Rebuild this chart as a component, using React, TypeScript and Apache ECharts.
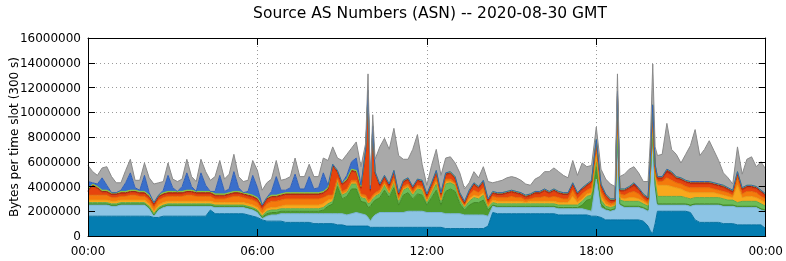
import React, { useEffect, useRef } from "react";
import * as echarts from "echarts";

// Time of each sample, minutes after 00:00 GMT (10-min steps, 5-min around narrow spikes)
const MINUTES = [
  0, 10, 20, 30, 40, 50,
  60, 70, 80, 90, 100, 110,
  120, 130, 140, 150, 160, 170,
  180, 190, 200, 210, 220, 230,
  240, 250, 260, 270, 280, 290,
  300, 310, 320, 330, 340, 350,
  360, 370, 380, 390, 400, 410,
  420, 430, 440, 450, 460, 470,
  480, 490, 500, 510, 520, 530,
  540, 550, 560, 570, 580, 590, 595,
  600, 605, 610, 620, 630, 640, 650,
  660, 670, 680, 690, 700, 710,
  720, 730, 740, 750, 760, 770,
  780, 790, 800, 810, 820, 830,
  840, 850, 860, 870, 880, 890,
  900, 910, 920, 930, 940, 950,
  960, 970, 980, 990, 1000, 1010,
  1020, 1030, 1040, 1050, 1060, 1070,
  1080, 1090, 1100, 1110, 1120, 1125, 1130,
  1140, 1150, 1160, 1170, 1180, 1190, 1195,
  1200, 1205, 1210, 1220, 1230, 1240, 1250,
  1260, 1270, 1280, 1290, 1300, 1310,
  1320, 1330, 1340, 1350, 1360, 1370,
  1380, 1390, 1400, 1410, 1420, 1430,
  1440,
];

// Layer thicknesses in units of 100 000 bytes, bottom layer first
const AS_DARK_BLUE = [
  16, 16, 16, 16, 16, 16,
  16, 16, 16, 16, 16, 16,
  16, 16, 15, 15, 16, 16,
  16, 16, 16, 16, 16, 16,
  16, 16, 21, 18, 18, 18,
  18, 18, 18, 18, 17, 16,
  15, 13, 12, 12, 12, 12,
  11, 11, 11, 11, 11, 11,
  10, 10, 10, 10, 10, 9,
  9, 8, 8, 8, 8, 8, 8,
  7, 7, 7, 7, 7, 7, 7,
  7, 7, 7, 7, 7, 7,
  7, 7, 7, 7, 6, 6,
  6, 6, 6, 6, 6, 6,
  6, 8, 19, 18, 18, 18,
  18, 18, 18, 18, 18, 18,
  18, 18, 18, 18, 17, 17,
  17, 17, 17, 17, 17, 16,
  16, 15, 13, 13, 13, 13, 13,
  13, 13, 13, 13, 12, 8, 4,
  2, 10, 20, 20, 20, 20, 20,
  20, 20, 19, 13, 11, 11,
  11, 11, 11, 10, 10, 10,
  9, 9, 9, 9, 9, 9,
  6,
];

const AS_LIGHT_BLUE = [
  9, 9, 9, 9, 9, 8,
  8, 9, 9, 9, 9, 9,
  9, 6, 1, 6, 7, 8,
  8, 8, 8, 8, 8, 8,
  8, 8, 3, 5, 5, 5,
  5, 5, 5, 5, 5, 5,
  4, 1, 4, 5, 5, 6,
  7, 7, 7, 7, 7, 7,
  8, 8, 8, 8, 8, 9,
  9, 9, 10, 11, 10, 9, 7,
  5, 8, 10, 12, 12, 12, 12,
  12, 12, 13, 13, 13, 13,
  12, 12, 12, 12, 12, 12,
  12, 12, 11, 11, 11, 11,
  11, 8, 5, 5, 5, 5,
  5, 5, 5, 5, 5, 5,
  5, 5, 5, 5, 5, 5,
  5, 5, 5, 5, 4, 4,
  30, 8, 8, 7, 8, 70, 12,
  10, 10, 10, 10, 10, 12, 45,
  81, 30, 5, 5, 5, 5, 5,
  5, 5, 5, 12, 14, 14,
  14, 14, 14, 14, 14, 14,
  14, 14, 14, 14, 14, 12,
  14,
];

const AS_DARK_GREEN = [
  1, 1, 1, 1, 1, 1,
  1, 1, 1, 1, 1, 1,
  1, 1, 1, 1, 1, 1,
  1, 1, 1, 1, 1, 1,
  1, 1, 1, 1, 1, 1,
  1, 1, 1, 1, 1, 1,
  1, 1, 2, 2, 2, 2,
  2, 2, 2, 2, 2, 2,
  2, 2, 3, 6, 8, 22,
  12, 15, 20, 19, 10, 10, 8,
  12, 12, 12, 12, 18, 12, 20,
  6, 14, 15, 10, 14, 13,
  6, 12, 18, 6, 18, 20,
  18, 8, 4, 8, 10, 10,
  12, 5, 1, 1, 1, 1,
  1, 1, 1, 1, 1, 1,
  1, 1, 1, 1, 1, 1,
  1, 1, 1, 3, 8, 10,
  10, 3, 1, 1, 1, 2, 1,
  1, 1, 1, 1, 1, 1, 1,
  1, 1, 1, 1, 1, 1, 1,
  1, 1, 1, 1, 1, 1,
  1, 1, 1, 1, 1, 1,
  1, 1, 1, 1, 1, 1,
  1,
];

const AS_LIGHT_GREEN = [
  1, 1, 1, 1, 1, 1,
  1, 1, 1, 1, 1, 1,
  1, 1, 1, 1, 1, 1,
  1, 1, 1, 1, 1, 1,
  1, 1, 1, 1, 1, 1,
  1, 1, 1, 1, 1, 1,
  1, 1, 2, 2, 2, 2,
  2, 2, 2, 2, 2, 2,
  2, 2, 2, 2, 2, 4,
  3, 3, 4, 4, 3, 3, 3,
  3, 3, 3, 3, 4, 3, 4,
  3, 4, 4, 3, 4, 4,
  2, 4, 5, 3, 6, 5,
  5, 3, 2, 3, 4, 3,
  4, 2, 2, 2, 2, 2,
  2, 2, 2, 2, 2, 2,
  2, 2, 2, 2, 2, 2,
  2, 2, 2, 3, 3, 3,
  4, 3, 2, 2, 2, 2, 3,
  4, 4, 4, 4, 3, 3, 2,
  2, 3, 6, 6, 6, 6, 6,
  6, 5, 5, 5, 5, 5,
  5, 5, 5, 5, 4, 4,
  3, 4, 4, 4, 4, 4,
  3,
];

const AS_AMBER = [
  2, 2, 2, 2, 2, 2,
  2, 2, 2, 2, 2, 2,
  2, 2, 2, 2, 2, 2,
  2, 2, 2, 2, 2, 2,
  2, 2, 2, 2, 2, 2,
  2, 2, 2, 2, 2, 2,
  2, 2, 2, 2, 2, 2,
  3, 3, 3, 3, 3, 3,
  3, 3, 3, 3, 2, 1,
  1, 1, 1, 1, 1, 1, 1,
  1, 1, 1, 1, 1, 1, 1,
  1, 1, 1, 1, 1, 1,
  1, 1, 2, 1, 2, 1,
  1, 1, 1, 2, 2, 2,
  2, 1, 2, 2, 2, 2,
  2, 2, 2, 1, 2, 2,
  2, 2, 2, 2, 2, 2,
  2, 7, 2, 2, 2, 2,
  6, 3, 2, 1, 1, 10, 2,
  2, 3, 3, 2, 2, 1, 3,
  6, 4, 9, 9, 9, 8, 7,
  6, 5, 5, 4, 4, 4,
  4, 4, 3, 3, 3, 2,
  14, 3, 4, 4, 3, 3,
  3,
];

const AS_ORANGE = [
  4, 4, 4, 4, 4, 3,
  3, 3, 3, 4, 4, 3,
  3, 3, 3, 4, 4, 4,
  4, 4, 4, 5, 5, 4,
  4, 4, 4, 3, 3, 3,
  4, 5, 5, 4, 4, 4,
  4, 3, 4, 5, 5, 5,
  5, 5, 5, 5, 5, 5,
  5, 5, 5, 4, 3, 2,
  2, 2, 2, 2, 2, 2, 2,
  2, 2, 2, 2, 2, 2, 3,
  2, 2, 2, 2, 2, 2,
  2, 2, 3, 2, 2, 2,
  1, 1, 1, 3, 4, 3,
  4, 2, 3, 3, 3, 3,
  4, 3, 3, 2, 2, 3,
  3, 4, 3, 4, 4, 3,
  3, 5, 3, 4, 3, 4,
  6, 4, 3, 2, 2, 10, 3,
  3, 4, 5, 4, 2, 2, 4,
  7, 4, 3, 3, 6, 5, 4,
  4, 4, 4, 4, 4, 4,
  4, 3, 3, 3, 3, 2,
  6, 3, 4, 4, 4, 3,
  3,
];

const AS_RED = [
  3, 7, 5, 2, 2, 2,
  2, 2, 2, 2, 2, 2,
  2, 2, 2, 2, 2, 2,
  2, 2, 2, 2, 2, 2,
  2, 2, 2, 2, 2, 2,
  2, 2, 2, 2, 2, 2,
  2, 2, 3, 3, 3, 3,
  3, 3, 3, 3, 3, 3,
  3, 3, 3, 4, 23, 4,
  5, 6, 7, 6, 4, 35, 86,
  6, 54, 15, 3, 3, 3, 4,
  2, 3, 3, 2, 3, 3,
  2, 3, 4, 2, 3, 4,
  3, 2, 1, 2, 4, 3,
  4, 2, 2, 2, 2, 3,
  3, 3, 2, 2, 2, 3,
  3, 4, 3, 4, 3, 3,
  3, 4, 3, 3, 3, 4,
  3, 4, 3, 2, 1, 6, 2,
  3, 3, 4, 3, 2, 2, 3,
  4, 3, 2, 2, 4, 4, 3,
  3, 3, 3, 3, 3, 3,
  3, 3, 3, 3, 2, 2,
  3, 3, 3, 3, 3, 3,
  2,
];

const AS_DARK_RED = [
  1, 1, 1, 1, 1, 1,
  1, 1, 1, 1, 1, 1,
  1, 1, 1, 1, 1, 1,
  1, 1, 1, 1, 1, 1,
  1, 1, 1, 1, 1, 1,
  1, 1, 1, 1, 1, 1,
  1, 1, 1, 1, 1, 1,
  1, 1, 1, 1, 1, 1,
  1, 1, 1, 1, 1, 1,
  1, 1, 1, 1, 1, 1, 1,
  1, 1, 1, 1, 1, 1, 1,
  1, 1, 1, 1, 1, 1,
  1, 1, 1, 1, 1, 1,
  1, 1, 1, 1, 1, 1,
  1, 1, 1, 1, 1, 1,
  1, 1, 1, 1, 1, 1,
  1, 1, 1, 1, 1, 1,
  1, 1, 1, 1, 1, 1,
  2, 1, 1, 1, 1, 2, 1,
  1, 1, 2, 1, 1, 1, 1,
  2, 2, 1, 1, 2, 2, 1,
  1, 1, 1, 1, 1, 1,
  1, 1, 1, 1, 1, 1,
  1, 1, 1, 1, 1, 1,
  1,
];

const AS_LIME = [
  1, 1, 1, 1, 1, 1,
  1, 1, 1, 1, 1, 1,
  1, 1, 1, 1, 1, 1,
  1, 1, 1, 1, 1, 1,
  1, 1, 1, 1, 1, 1,
  1, 1, 1, 1, 1, 1,
  1, 1, 1, 1, 1, 1,
  1, 1, 1, 1, 1, 1,
  1, 1, 1, 1, 1, 1,
  1, 1, 1, 1, 1, 1, 1,
  1, 1, 1, 1, 1, 1, 1,
  1, 1, 1, 1, 1, 1,
  1, 1, 1, 1, 1, 1,
  1, 1, 1, 1, 1, 1,
  1, 1, 1, 1, 1, 1,
  1, 1, 1, 1, 1, 1,
  1, 1, 1, 1, 1, 1,
  1, 1, 1, 1, 1, 1,
  1, 1, 1, 1, 1, 1, 1,
  1, 1, 1, 1, 1, 1, 1,
  1, 1, 1, 1, 1, 1, 1,
  1, 1, 1, 1, 1, 1,
  1, 1, 1, 1, 1, 1,
  1, 1, 1, 1, 1, 1,
  1,
];

const AS_BLUE = [
  6, 1, 2, 10, 4, 0,
  0, 1, 7, 14, 2, 1,
  13, 2, 0, 0, 2, 13,
  3, 0, 4, 14, 3, 0,
  15, 5, 0, 2, 15, 2,
  3, 16, 3, 0, 2, 16,
  8, 0, 0, 3, 15, 3,
  2, 4, 15, 3, 3, 13,
  3, 4, 15, 2, 0, 0,
  0, 3, 6, 10, 1, 0, 1,
  0, 0, 0, 0, 0, 0, 0,
  0, 0, 0, 0, 0, 0,
  0, 0, 0, 0, 0, 0,
  0, 0, 0, 0, 0, 0,
  0, 0, 0, 0, 0, 0,
  0, 0, 0, 0, 0, 0,
  0, 0, 0, 0, 0, 0,
  0, 0, 0, 0, 0, 0,
  0, 0, 0, 0, 0, 1, 0,
  0, 0, 0, 0, 0, 0, 0,
  0, 0, 0, 0, 0, 0, 0,
  0, 0, 0, 0, 0, 0,
  0, 0, 0, 0, 0, 0,
  0, 0, 0, 0, 0, 0,
  0,
];

const AS_GRAY = [
  13, 9, 7, 8, 15, 13,
  8, 6, 10, 11, 6, 8,
  10, 12, 15, 10, 7, 10,
  7, 8, 6, 11, 8, 8,
  11, 11, 9, 12, 12, 10,
  12, 14, 9, 9, 9, 12,
  14, 12, 12, 10, 13, 8,
  9, 9, 13, 10, 10, 10,
  10, 9, 12, 20, 14, 10,
  18, 17, 11, 13, 15, 5, 13,
  3, 9, 10, 30, 30, 28, 34,
  30, 17, 15, 30, 36, 13,
  7, 14, 17, 14, 12, 12,
  11, 16, 10, 6, 9, 7,
  11, 14, 7, 9, 10, 11,
  11, 11, 10, 9, 7, 10,
  12, 14, 16, 17, 16, 14,
  12, 18, 14, 20, 14, 12,
  10, 12, 12, 12, 10, 14, 10,
  12, 14, 13, 12, 10, 13, 14,
  33, 14, 17, 18, 37, 18, 18,
  12, 21, 29, 42, 21, 26,
  33, 26, 19, 10, 8, 5,
  20, 11, 21, 23, 16, 23,
  20,
];

const UNIT = 100000;
const Y_TICKS = [0, 2000000, 4000000, 6000000, 8000000, 10000000, 12000000, 14000000, 16000000];
const TITLE = "Source AS Numbers (ASN) -- 2020-08-30 GMT";
const Y_NAME = "Bytes per time slot (300 s)";
const FONT = '"DejaVu Sans", Verdana, sans-serif';

const LAYERS = [
  { name: "AS dark blue", values: AS_DARK_BLUE, fill: "#047db1", edge: "#03709f" },
  { name: "AS light blue", values: AS_LIGHT_BLUE, fill: "#8cc4e4", edge: "#79b4d6" },
  { name: "AS dark green", values: AS_DARK_GREEN, fill: "#4e9b2d", edge: "#438a26" },
  { name: "AS light green", values: AS_LIGHT_GREEN, fill: "#6cbc58", edge: "#5eab4c" },
  { name: "AS amber", values: AS_AMBER, fill: "#f8a81c", edge: "#e99a16" },
  { name: "AS orange", values: AS_ORANGE, fill: "#f47a0c", edge: "#e06c08" },
  { name: "AS red", values: AS_RED, fill: "#e6440e", edge: "#d23a0a" },
  { name: "AS dark red", values: AS_DARK_RED, fill: "#b52818", edge: "#a02214" },
  { name: "AS lime", values: AS_LIME, fill: "#9bd33a", edge: "#8cc630" },
  { name: "AS blue", values: AS_BLUE, fill: "#3a6fcb", edge: "#3060b8" },
  { name: "AS gray", values: AS_GRAY, fill: "#a9a9a9", edge: "#8a8a8a" },
];

function hhmm(v: number): string {
  const h = Math.floor(v / 60) % 24;
  return (h < 10 ? "0" : "") + h + ":00";
}

export default function App() {
  const ref = useRef<HTMLDivElement>(null);
  useEffect(() => {
    if (!ref.current) return;
    const chart = echarts.init(ref.current, undefined, { renderer: "svg" });
    const yMax = Y_TICKS[Y_TICKS.length - 1];
    const yStep = Y_TICKS[1] - Y_TICKS[0];
    const gridAxisX = { type: "value", min: 0, max: 1440, interval: 360 };
    const gridAxisY = { type: "value", min: 0, max: yMax, interval: yStep };
    const frameLine = { show: true, onZero: false, lineStyle: { color: "#000", width: 1 } };
    const frameTick = { show: true, inside: true, length: 7, lineStyle: { color: "#000", width: 1 } };
    const option: any = {
      animation: false,
      grid: { left: 88, right: 19, top: 38, bottom: 25, containLabel: false },
      graphic: [
        {
          type: "text",
          x: 430,
          y: 13,
          style: { text: TITLE, fontFamily: FONT, fontSize: 15.5, fill: "#000", align: "center", verticalAlign: "middle" },
        },
        {
          type: "text",
          x: 14,
          y: 137,
          rotation: Math.PI / 2,
          style: { text: Y_NAME, fontFamily: FONT, fontSize: 12, fill: "#000", align: "center", verticalAlign: "middle" },
        },
      ],
      xAxis: [
        {
          ...gridAxisX,
          position: "bottom",
          axisLine: { show: false },
          axisTick: { show: false },
          axisLabel: { show: false },
          splitLine: { show: true, lineStyle: { color: "#9a9a9a", type: [1, 3], width: 1 } },
        },
        {
          ...gridAxisX,
          position: "bottom",
          z: 6,
          axisLine: frameLine,
          axisTick: frameTick,
          axisLabel: { show: true, formatter: hhmm, color: "#000", fontFamily: FONT, fontSize: 12, margin: 9 },
          splitLine: { show: false },
        },
        {
          ...gridAxisX,
          position: "top",
          z: 6,
          axisLine: frameLine,
          axisTick: frameTick,
          axisLabel: { show: false },
          splitLine: { show: false },
        },
      ],
      yAxis: [
        {
          ...gridAxisY,
          position: "left",
          axisLine: { show: false },
          axisTick: { show: false },
          axisLabel: { show: false },
          splitLine: { show: true, lineStyle: { color: "#9a9a9a", type: [1, 3], width: 1 } },
        },
        {
          ...gridAxisY,
          position: "left",
          z: 6,
          axisLine: frameLine,
          axisTick: frameTick,
          axisLabel: { show: true, formatter: (v: number) => String(v), color: "#000", fontFamily: FONT, fontSize: 12, margin: 7 },
          splitLine: { show: false },
        },
        {
          ...gridAxisY,
          position: "right",
          z: 6,
          axisLine: frameLine,
          axisTick: frameTick,
          axisLabel: { show: false },
          splitLine: { show: false },
        },
      ],
      series: LAYERS.map((layer) => ({
        type: "line",
        name: layer.name,
        stack: "bytes",
        xAxisIndex: 0,
        yAxisIndex: 0,
        symbol: "none",
        showSymbol: false,
        z: 2,
        lineStyle: { width: 1, color: layer.edge },
        itemStyle: { color: layer.fill },
        areaStyle: { color: layer.fill, opacity: 1 },
        // bytes first so that the stack is summed on the y dimension; minutes mapped to x
        encode: { x: 1, y: 0 },
        data: MINUTES.map((m, k) => [layer.values[k] * UNIT, m]),
      })),
    };
    chart.setOption(option);
    return () => chart.dispose();
  }, []);
  return <div ref={ref} style={{ position: "fixed", left: 0, top: 0, width: 786, height: 261 }} />;
}
